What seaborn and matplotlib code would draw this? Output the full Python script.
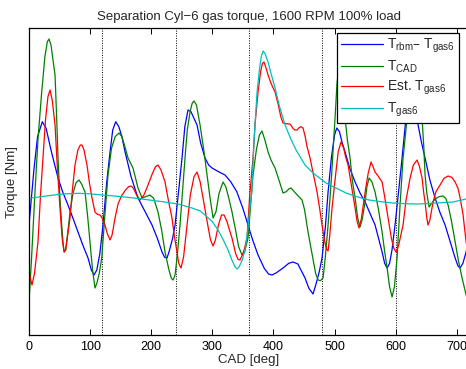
import numpy as np
import pandas as pd
import matplotlib
matplotlib.use("Agg")
import matplotlib.pyplot as plt
from matplotlib.lines import Line2D
import seaborn as sns

# ---------------- data ----------------
blue_cad = [0, 8, 14, 21.8, 28, 36, 47.5, 55, 63.8, 72, 80.2, 88, 96.6, 102, 106.4, 111, 116,
            121.1, 127, 132.6, 137, 141.9, 147, 152, 157.1, 167, 178.4, 190, 201.3, 210, 217.7,
            222, 225.9, 230, 235, 239, 245, 250.4, 255, 260.2, 265, 270, 275, 281, 288, 294,
            299.5, 310, 320.8, 330, 340, 350, 358.4, 366, 374.8, 385, 392, 397.7, 405, 415.7,
            425, 432.1, 440, 451.7, 458, 464.8, 470, 475, 479.5, 485, 489.4, 495, 500, 503.6,
            508, 512, 517.2, 525, 533.6, 542, 550, 558, 566.3, 572, 577.8, 582, 586, 590, 594,
            599, 605, 610.5, 616, 621, 625.7, 630, 636.7, 642, 648.1, 656, 664.5, 672, 680.9,
            690, 697.3, 702, 705.5, 710, 715.3, 720]
blue_val = [-750, 900, 1900, 2349, 2150, 1500, 660, 250, -150, -550, -960, -1350, -1740, -2100,
            -2250, -2100, -1600, -750, 500, 1440, 2100, 2349, 2200, 1900, 1450, 700, 60, -350,
            -750, -1150, -1560, -1720, -1740, -1500, -1150, -750, 300, 1260, 2200, 2700, 2650,
            2450, 2250, 1700, 1260, 1050, 960, 850, 750, 550, 250, -250, -750, -1200, -1650,
            -2050, -2220, -2250, -2180, -2040, -1900, -1860, -1920, -2340, -2650, -2820, -2500,
            -2150, -1740, -800, 240, 1300, 1950, 2160, 2050, 1750, 1440, 950, 540, 200, -60,
            -400, -750, -1150, -1560, -1900, -2040, -1900, -1500, -750, 300, 1260, 2300, 2900,
            3000, 2850, 2250, 1750, 1260, 600, 60, -350, -750, -1300, -1740, -1980, -2040,
            -1900, -1560, -1100]

green_cad = [0, 4, 9.8, 15, 20.8, 26, 30, 32.7, 36, 40, 42.6, 45, 47.5, 50.5, 53.5, 56, 57.8,
             60, 63, 67.1, 72, 77, 81.8, 86, 91.7, 96, 99.8, 104, 108, 111, 115, 119, 124,
             129.3, 135, 141, 147.3, 152, 157, 162, 170.2, 178.4, 185, 191, 198, 204, 211.1,
             217, 222.6, 229, 233, 235.7, 239, 243, 247.1, 251, 255.3, 259, 263.5, 267, 270,
             274, 279.9, 286, 291.3, 296, 301.2, 306, 311, 317.5, 322, 327, 332.2, 338, 343,
             348.6, 353, 358.4, 362, 366.6, 372, 377, 381.3, 386, 391.2, 396, 402.6, 409,
             415.7, 421, 425, 428.8, 434, 440, 446.8, 451, 456.6, 464, 469, 473, 477, 481.2,
             485, 489.4, 495, 500.8, 504, 509, 514, 517.2, 521, 525.4, 529, 533.6, 538, 541.7,
             545, 550, 553, 556.5, 561, 566.3, 572, 577.8, 582, 586, 590, 594.1, 598, 602.3,
             607, 612.1, 618.7, 624, 631, 638, 643.2, 646, 648.1, 651, 654.7, 659, 664.5, 671,
             677.6, 682, 685.8, 691, 697.3, 703, 708.7, 715.3, 720]
green_val = [-3060, -1800, 240, 1900, 3240, 4300, 4750, 4830, 4650, 4100, 3750, 2600, 1260, 100,
             -750, -1350, -1560, -1500, -1050, -360, 200, 520, 600, 480, 240, -500, -1260,
             -2100, -2640, -2500, -2200, -1740, -500, 750, 1550, 1900, 2010, 1900, 1600, 1260,
             960, 360, 60, 100, 150, 50, -360, -900, -1560, -2100, -2350, -2400, -2250, -1600,
             -750, 200, 1260, 2100, 2640, 2900, 2970, 2850, 2250, 1500, 750, 100, -540, -350,
             200, 540, 400, 50, -360, -900, -1400, -1650, -1550, -1140, -300, 750, 1500, 1950,
             2070, 1800, 1440, 1200, 960, 600, 210, 250, 330, 360, 250, 130, 0, -300, -960,
             -1700, -2200, -2400, -2420, -2340, -1700, -750, 700, 2460, 3500, 4300, 3500, 2460,
             1800, 1260, 600, 60, -550, -810, -600, -60, 400, 660, 550, 240, -300, -960, -1550,
             -2040, -2600, -2910, -2600, -1740, -200, 1260, 2460, 3400, 3800, 3300, 2460, 1600,
             750, 200, -210, -100, 30, 100, 120, 50, -150, -600, -1260, -1850, -2340, -2850,
             -3100]

red_cad = [0, 4.9, 9, 14.7, 19, 22.9, 27, 31, 34.4, 38, 42.6, 46, 50.7, 54, 57.3, 60, 63, 67.1,
           71, 75.3, 80, 84, 86.7, 90, 94.9, 99, 103.1, 108, 112, 116.2, 120, 124.4, 128, 132.6,
           136, 140.8, 146, 152.2, 158, 163, 167, 171, 176, 181.7, 188, 194.8, 202, 207, 211.1,
           216, 222.6, 228, 234, 238, 242.2, 245, 248.8, 253, 258.6, 264, 270, 275, 280, 284.8,
           292, 297, 301.2, 305, 310, 315, 319.2, 324, 328, 332.2, 338, 342, 345.3, 349, 352,
           356.8, 361, 366.6, 370, 374.8, 379, 382, 384.6, 388, 391.2, 396, 402.6, 408, 412,
           415.7, 421, 427.2, 432, 435, 438.6, 442, 445, 448.4, 452, 455, 459.9, 465, 471.4,
           476, 479.5, 484, 487, 489.4, 492, 495.9, 502, 506, 510.6, 515, 518, 522.1, 527,
           533.6, 537, 540.1, 544, 550, 555, 559.7, 563, 566.3, 572, 577.8, 582, 587.6, 593,
           597, 600.7, 605, 612.1, 617, 623.6, 629, 635, 639, 643.2, 646, 648.1, 651, 653, 656,
           661.2, 666, 672.7, 679, 685.8, 692, 697.3, 702, 705.5, 710, 715.3, 720]
red_val = [-2160, -2550, -2200, -1260, 200, 1260, 2400, 3100, 3300, 3000, 2250, 1100, -240,
           -1100, -1560, -1500, -1100, -540, 300, 1050, 1500, 1650, 1650, 1500, 1050, 500, 60,
           -360, -430, -450, -550, -750, -1000, -1200, -1050, -540, -100, 150, 300, 400, 420,
           350, 150, 0, 150, 450, 800, 1000, 1050, 900, 540, 0, -540, -1100, -1560, -1900,
           -2040, -1700, -750, 150, 700, 840, 550, 60, -700, -1200, -1380, -1200, -750, -450,
           -450, -650, -900, -1140, -1600, -1780, -1800, -1650, -1500, -1140, 100, 1260, 2300,
           3240, 3850, 4100, 4140, 3950, 3750, 3500, 3240, 2850, 2500, 2310, 2290, 2280, 2150,
           2100, 2100, 2170, 2200, 2160, 1900, 1600, 1260, 800, 240, -300, -750, -1250, -1480,
           -1530, -1100, -240, 800, 1450, 1740, 1550, 1300, 1050, 500, -240, -650, -840, -550,
           240, 800, 1140, 1000, 840, 700, 540, 100, -540, -1150, -1450, -1560, -1350, -750, 0,
           660, 1050, 1200, 1000, 660, 200, -60, -550, -750, -600, -60, 250, 450, 650, 720, 680,
           540, 350, 60, -400, -1260, -1700]

cyan_cad = [0, 20, 34.4, 55, 80.2, 100, 119.5, 140, 157.1, 185, 205, 222.6, 243.9, 266.8, 280,
            288, 300, 309.3, 318, 325.7, 332, 337, 340.4, 344, 349, 353.5, 358, 361, 364.5,
            368.3, 373.2, 377, 380, 383, 386, 391.2, 396, 402.6, 410, 419, 428, 437, 451.7,
            464.8, 486.1, 500, 518.8, 540, 556.5, 575, 595.8, 615, 633.4, 650, 666.1, 694,
            715.3, 720]
cyan_val = [51, 100, 135, 180, 201, 185, 150, 120, 90, 30, -20, -60, -120, -240, -330, -450,
            -650, -900, -1200, -1500, -1800, -2000, -2070, -2000, -1800, -1500, -900, -300, 240,
            1800, 3240, 3900, 4300, 4470, 4400, 4140, 3800, 3360, 2800, 2250, 1850, 1500, 1050,
            810, 510, 380, 210, 80, 0, -50, -90, -110, -120, -110, -90, -60, 30, 50]

series_names = [r"$T_{rbm}$– $T_{gas6}$", r"$T_{CAD}$", r"Est. $T_{gas6}$", r"$T_{gas6}$"]
series_colors = ["#0000ff", "#008000", "#ff0000", "#00bfbf"]
cylinder_marks = [120, 240, 360, 480, 600]
x_ticks = [0, 100, 200, 300, 400, 500, 600, 700]

frames = []
for name, cad, val in zip(series_names,
                          [blue_cad, green_cad, red_cad, cyan_cad],
                          [blue_val, green_val, red_val, cyan_val]):
    frames.append(pd.DataFrame({"CAD": cad, "Torque": val, "series": name}))
df = pd.concat(frames, ignore_index=True)

# ---------------- style ----------------
sns.set_style("ticks")
plt.rcParams["font.family"] = ["Liberation Sans", "DejaVu Sans"]
plt.rcParams["mathtext.default"] = "regular"
plt.rcParams["axes.linewidth"] = 0.9
plt.rcParams["axes.edgecolor"] = "black"

fig = plt.figure(figsize=(4.66, 3.69), dpi=100)
ax = fig.add_axes([29 / 466, 1 - 335 / 369, 440 / 466, 307 / 369])

sns.lineplot(data=df, x="CAD", y="Torque", hue="series", palette=series_colors,
             hue_order=series_names, sort=False, estimator=None, units="series",
             linewidth=0.9, ax=ax, legend=False)

for xm in cylinder_marks:
    ax.axvline(xm, color="black", linestyle=(0, (1, 1.5)), linewidth=0.7, zorder=0)

ax.set_xlim(0, 720)
ax.set_ylim(-4050, 5160)
ax.set_xticks(x_ticks)
ax.set_yticks([])
ax.tick_params(axis="x", direction="in", top=True, bottom=True, length=4, width=0.7,
               labelsize=9, pad=4, colors="black")
for s in ax.spines.values():
    s.set_visible(True)
    s.set_color("black")

ax.set_title("Separation Cyl−6 gas torque, 1600 RPM 100% load", fontsize=9.5, pad=6)
ax.set_xlabel("CAD [deg]", fontsize=9.5, labelpad=1)
ax.set_ylabel("Torque [Nm]", fontsize=9.5, labelpad=8)

handles = [Line2D([0], [0], color=c, lw=0.9) for c in series_colors]
leg = ax.legend(handles, series_names, loc="upper left",
                bbox_to_anchor=((337 - 29) / 440, 1 - 5 / 307),
                fontsize=10, frameon=True, fancybox=False, framealpha=1,
                edgecolor="black", handlelength=3.0, handletextpad=0.3,
                labelspacing=0.25, borderpad=0.3, borderaxespad=0)
leg.get_frame().set_linewidth(0.9)

fig.savefig("out.png", dpi=100)
